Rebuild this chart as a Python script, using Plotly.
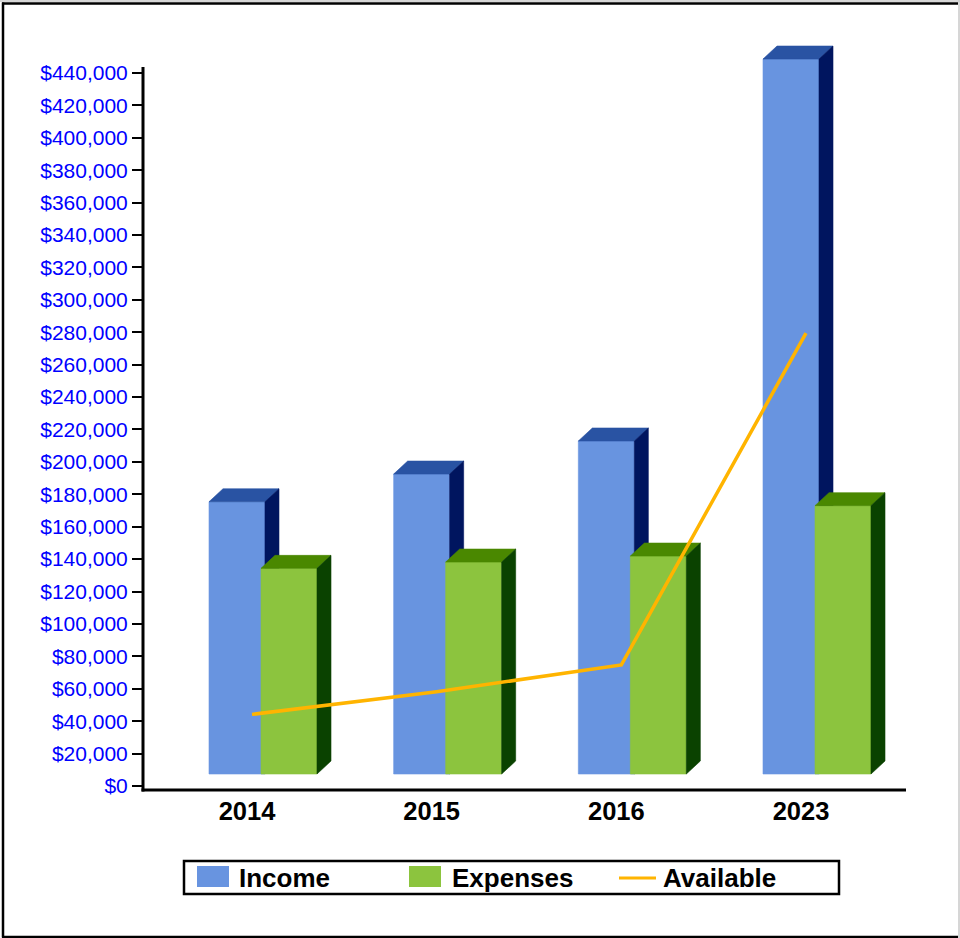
import plotly.graph_objects as go

# ---- data -------------------------------------------------------------
years = ["2014", "2015", "2016", "2023"]
income = [175400, 192500, 212900, 448600]
expenses = [134300, 138200, 141900, 173000]
available = [44200, 58200, 74700, 279500]

y_ticks = list(range(0, 440001, 20000))
y_tick_text = [f"${v:,}" for v in y_ticks]

# ---- page / plot geometry (pixels) -------------------------------------
W, H = 960, 938
PLOT_L, PLOT_R, PLOT_T, PLOT_B = 144, 905, 40, 790
X_RANGE = [-0.5578, 3.5631]
Y_RANGE = [-2468, 460350]

# 3D box look, in axis units
BAR_W = 0.3032
INC_OFF = -0.2058
EXP_OFF = 0.0758
DEPTH_X = 0.0758
DEPTH_Y = 8020
FLOOR = 7400
LINE_OFF = 0.027

INC_COLORS = ("#6894E0", "#2953A3", "#00155F")   # front, top, side
EXP_COLORS = ("#8CC43E", "#4A8800", "#0A4200")
LINE_COLOR = "#FFB400"
FONT = "Liberation Sans, Arial, sans-serif"


def px(x):
    return (x - PLOT_L) / (PLOT_R - PLOT_L)


def py(y):
    return (PLOT_B - y) / (PLOT_B - PLOT_T)


def box_faces(offset, values):
    """Polygons (front, top, side) for a row of 3D boxes."""
    front_x, front_y, top_x, top_y, side_x, side_y = [], [], [], [], [], []
    for i, v in enumerate(values):
        x0 = i + offset
        x1 = x0 + BAR_W
        front_x += [x0, x1, x1, x0, x0, None]
        front_y += [FLOOR, FLOOR, v, v, FLOOR, None]
        top_x += [x0, x1, x1 + DEPTH_X, x0 + DEPTH_X, x0, None]
        top_y += [v, v, v + DEPTH_Y, v + DEPTH_Y, v, None]
        side_x += [x1, x1 + DEPTH_X, x1 + DEPTH_X, x1, x1, None]
        side_y += [FLOOR, FLOOR + DEPTH_Y, v + DEPTH_Y, v, FLOOR, None]
    return (front_x, front_y), (top_x, top_y), (side_x, side_y)


fig = go.Figure()

for name, offset, values, colors in (
    ("Income", INC_OFF, income, INC_COLORS),
    ("Expenses", EXP_OFF, expenses, EXP_COLORS),
):
    for (xs, ys), color in zip(box_faces(offset, values), colors):
        fig.add_trace(go.Scatter(
            x=xs, y=ys, mode="lines", fill="toself", fillcolor=color,
            line=dict(color=color, width=0.6), name=name,
            showlegend=False, hoverinfo="skip",
        ))

fig.add_trace(go.Scatter(
    x=[i + LINE_OFF for i in range(len(years))], y=available,
    mode="lines", line=dict(color=LINE_COLOR, width=3.5),
    name="Available", showlegend=False,
))

shapes = []
# axis lines
shapes.append(dict(type="line", xref="paper", yref="paper",
                   x0=px(143), x1=px(143), y0=py(791.5), y1=py(67),
                   line=dict(color="black", width=3)))
shapes.append(dict(type="line", xref="paper", yref="paper",
                   x0=px(141.5), x1=px(906), y0=py(790), y1=py(790),
                   line=dict(color="black", width=3)))
# page frame
shapes.append(dict(type="line", xref="paper", yref="paper",
                   x0=px(0), x1=px(960), y0=py(1), y1=py(1),
                   line=dict(color="#c8c8c8", width=1.5)))
shapes.append(dict(type="line", xref="paper", yref="paper",
                   x0=px(2), x1=px(958), y0=py(3.5), y1=py(3.5),
                   line=dict(color="black", width=2.5)))
shapes.append(dict(type="line", xref="paper", yref="paper",
                   x0=px(3), x1=px(3), y0=py(2.5), y1=py(937.5),
                   line=dict(color="black", width=2.5)))
shapes.append(dict(type="line", xref="paper", yref="paper",
                   x0=px(2), x1=px(958), y0=py(937), y1=py(937),
                   line=dict(color="black", width=2.5)))
shapes.append(dict(type="line", xref="paper", yref="paper",
                   x0=px(959), x1=px(959), y0=py(0), y1=py(938),
                   line=dict(color="#c8c8c8", width=1.5)))

# legend box and keys
shapes.append(dict(type="rect", xref="paper", yref="paper",
                   x0=px(184), x1=px(839), y0=py(861), y1=py(894),
                   line=dict(color="black", width=2.5), fillcolor="white"))
shapes.append(dict(type="rect", xref="paper", yref="paper",
                   x0=px(197), x1=px(229), y0=py(866), y1=py(887),
                   line=dict(width=0), fillcolor=INC_COLORS[0]))
shapes.append(dict(type="rect", xref="paper", yref="paper",
                   x0=px(409), x1=px(441), y0=py(866), y1=py(887),
                   line=dict(width=0), fillcolor=EXP_COLORS[0]))
shapes.append(dict(type="line", xref="paper", yref="paper",
                   x0=px(619), x1=px(656), y0=py(878), y1=py(878),
                   line=dict(color=LINE_COLOR, width=3)))

annotations = []
for label, x_left in (("Income", 237), ("Expenses", 450), ("Available", 661)):
    annotations.append(dict(
        text=f"<b>{label}</b>", xref="paper", yref="paper",
        x=px(x_left), y=py(877.5), xanchor="left", yanchor="middle",
        showarrow=False, font=dict(family=FONT, size=26, color="black"),
    ))

fig.update_layout(
    width=W, height=H,
    margin=dict(l=PLOT_L, r=W - PLOT_R, t=PLOT_T, b=H - PLOT_B, pad=0),
    paper_bgcolor="white", plot_bgcolor="white",
    showlegend=False,
    shapes=shapes, annotations=annotations,
    xaxis=dict(
        range=X_RANGE, tickmode="array", tickvals=list(range(len(years))),
        ticktext=[f"<b>{y}</b>" for y in years],
        tickfont=dict(family=FONT, size=25.5, color="black"),
        ticks="", showgrid=False, zeroline=False, showline=False,
        ticklabelstandoff=3,
    ),
    yaxis=dict(
        range=Y_RANGE, tickmode="array", tickvals=y_ticks, ticktext=y_tick_text,
        tickfont=dict(family=FONT, size=21, color="#0000FF"),
        ticks="outside", ticklen=11, tickwidth=2, tickcolor="black",
        showgrid=False, zeroline=False, showline=False,
    ),
)

fig.write_html("out.html")
